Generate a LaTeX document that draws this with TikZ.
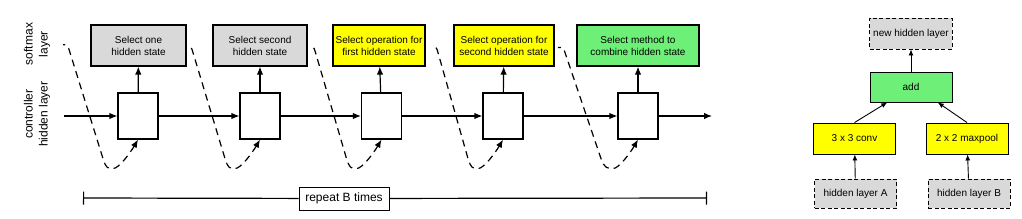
\documentclass[tikz,border=0pt]{standalone}
\usepackage{fontspec}
\setmainfont{Liberation Sans}
\usetikzlibrary{arrows.meta}

\definecolor{boxgray}{RGB}{217,217,217}
\definecolor{boxyellow}{RGB}{255,255,0}
\definecolor{boxgreen}{RGB}{110,240,120}

\begin{document}
\begin{tikzpicture}[x=1pt,y=-1pt,
    softbox/.style={draw,line width=1.2pt,minimum height=41pt,align=center,inner sep=2pt,font=\fontsize{10}{12}\selectfont},
    cellbox/.style={draw,line width=1.2pt,fill=white,minimum width=40pt,minimum height=46pt},
    flow/.style={line width=1.2pt,-{Latex[length=8pt,width=6.5pt]}},
    feedback/.style={line width=1.2pt,dash pattern=on 7pt off 5pt,{Latex[length=8pt,width=6.5pt]}-},
    sidelabel/.style={rotate=90,align=center,font=\fontsize{12}{15}\selectfont},
    treebox/.style={draw,line width=0.9pt,minimum width=82pt,minimum height=30pt,font=\fontsize{10}{12}\selectfont},
    inbox/.style={treebox,fill=boxgray,dash pattern=on 4pt off 2.5pt},
    treeflow/.style={line width=0.9pt,-{Latex[length=6pt,width=5pt]}}]
    \useasboundingbox (0,0) rectangle (1022,218);

    % Layer labels
    \node[sidelabel] (lsoft) at (37,44) {softmax\\layer};

    \node[sidelabel] (lctrl) at (37,114) {controller\\hidden layer};

    % Softmax layer
    \node[softbox,fill=boxgray,minimum width=95pt] (s1) at (138.5,45.5) {Select one\\hidden state};

    \node[softbox,fill=boxgray,minimum width=94pt] (s2) at (260,45.5) {Select second\\hidden state};

    \node[softbox,fill=boxyellow,minimum width=92pt] (s3) at (379,45.5) {Select operation for\\first hidden state};

    \node[softbox,fill=boxyellow,minimum width=100pt] (s4) at (504,45.5) {Select operation for\\second hidden state};

    \node[softbox,fill=boxgreen,minimum width=122pt] (s5) at (638,45.5) {Select method to\\combine hidden state};

    % Controller hidden layer
    \node[cellbox] (h1) at (138,116) {};

    \node[cellbox] (h2) at (260,116) {};

    \node[cellbox] (h3) at (381.5,116) {};

    \node[cellbox] (h4) at (503,116) {};

    \node[cellbox] (h5) at (638,116) {};

    \coordinate (hin) at (64,116);
    \coordinate (hout) at (712,116);

    \draw[flow] (hin) -- (h1);
    \draw[flow] (h1) -- (h2);
    \draw[flow] (h2) -- (h3);
    \draw[flow] (h3) -- (h4);
    \draw[flow] (h4) -- (h5);
    \draw[flow] (h5) -- (hout);

    \draw[flow] (h1) -- (s1);
    \draw[flow] (h2) -- (s2);
    \draw[flow] (h3) -- (s3);
    \draw[flow] (h4) -- (s4);
    \draw[flow] (h5) -- (s5);

    % Sampled output fed back in
    \draw[feedback] (h1.south) .. controls +(-7,12) and +(6,0) .. ++(-25,29)
        .. controls +(-6,0) and +(3,9) .. ++(-10,-10) -- ++(-33,-106)
        .. controls +(-2,-7) and +(4,0) .. ++(-7,-8);

    \draw[feedback] (h2.south) .. controls +(-7,12) and +(6,0) .. ++(-25,29)
        .. controls +(-6,0) and +(3,9) .. ++(-10,-10) -- ++(-32,-106)
        .. controls +(-2,-7) and +(4,0) .. ++(-6,-5);

    \draw[feedback] (h3.south) .. controls +(-7,12) and +(6,0) .. ++(-25,29)
        .. controls +(-6,0) and +(3,9) .. ++(-10,-10) -- ++(-31,-106)
        .. controls +(-2,-7) and +(4,0) .. ++(-6,-5);

    \draw[feedback] (h4.south) .. controls +(-7,12) and +(6,0) .. ++(-25,29)
        .. controls +(-6,0) and +(3,9) .. ++(-10,-10) -- ++(-30,-106)
        .. controls +(-2,-7) and +(4,0) .. ++(-6,-5);

    \draw[feedback] (h5.south) .. controls +(-7,12) and +(6,0) .. ++(-25,29)
        .. controls +(-6,0) and +(3,9) .. ++(-12,-10) -- ++(-36,-106)
        .. controls +(-2,-7) and +(4,0) .. ++(-7,-5);

    % Repeat span
    \coordinate (rl) at (83,198);
    \coordinate (rr) at (707,198);

    \node[draw,line width=1pt,fill=white,minimum width=90pt,minimum height=23pt,font=\fontsize{12}{14}\selectfont] (rep) at (344,198.5) {repeat B times};

    \draw[line width=1.2pt,{Bar[width=13pt]}-] (rl) -- (rep);
    \draw[line width=1.2pt,-{Bar[width=13pt]}] (rep) -- (rr);

    % Combined cell
    \node[inbox,minimum height=31pt] (newh) at (911,33.5) {new hidden layer};

    \node[treebox,fill=boxgreen] (add) at (911,87) {add};

    \node[treebox,fill=boxyellow,minimum height=31pt] (conv) at (854.5,138.5) {3 x 3 conv};

    \node[treebox,fill=boxyellow,minimum height=31pt] (pool) at (967,138.5) {2 x 2 maxpool};

    \node[inbox,minimum height=29pt] (ha) at (855.5,193.5) {hidden layer A};

    \node[inbox,minimum height=29pt] (hb) at (969,193.5) {hidden layer B};

    \draw[treeflow] (add) -- (newh);
    \draw[treeflow] (conv.north) -- (add.-147);
    \draw[treeflow] (pool.north) -- (add.-30);
    \draw[treeflow] (ha) -- (conv);
    \draw[treeflow] (hb) -- (pool);
\end{tikzpicture}
\end{document}
